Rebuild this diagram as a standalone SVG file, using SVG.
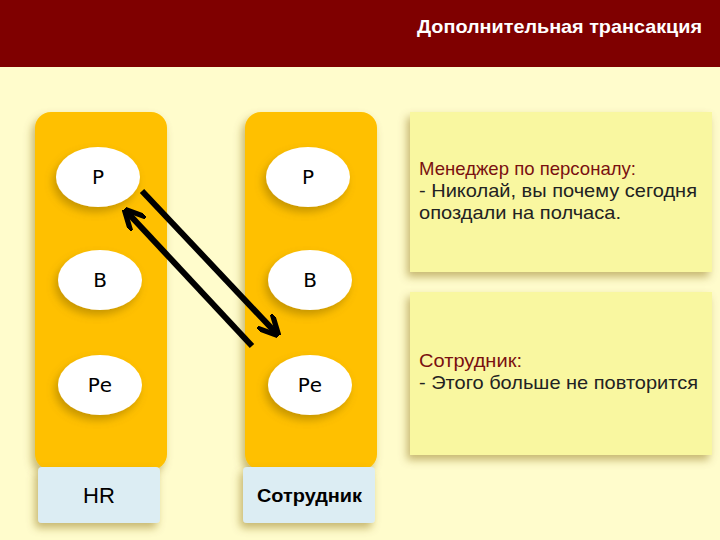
<svg xmlns="http://www.w3.org/2000/svg" width="720" height="540" viewBox="0 0 720 540">
<defs>
<style>
.col{fill:#ffc000}
.ell{fill:#fff}
.lbl{font-family:"Liberation Sans",Arial,sans-serif;font-size:22px;fill:#000;text-anchor:middle}
.nl{font-family:"DejaVu Sans",sans-serif;font-size:20px;fill:#000;text-anchor:middle}
.box{fill:#f9f7a0}
.bt{font-family:"Liberation Sans",Arial,sans-serif;font-size:19px;fill:#222}
.bh{fill:#7a1010}
.foot{fill:#dcedf3}
.arr{stroke:#000;stroke-width:6;fill:none}
</style>
<filter id="sh" x="-20%" y="-20%" width="150%" height="150%"><feDropShadow dx="-3" dy="5" stdDeviation="4" flood-color="#806000" flood-opacity="0.45"/></filter>
<marker id="ah" viewBox="0 0 10 10" refX="8" refY="5" markerWidth="3.5" markerHeight="3.5" orient="auto"><path d="M0,0 L10,5 L0,10" fill="none" stroke="#000" stroke-width="2.5"/></marker>
</defs>
<rect width="720" height="540" fill="#fffccc"/>
<rect width="720" height="67" fill="#7f0000"/>
<text x="417" y="33" textLength="285" lengthAdjust="spacingAndGlyphs" font-family="Liberation Sans,Arial,sans-serif" font-size="19" font-weight="bold" fill="#fff">Дополнительная трансакция</text>
<g id="colHR"><rect class="col" x="35" y="112" width="132" height="358" rx="16" filter="url(#sh)"/></g>
<g id="colEmp"><rect class="col" x="245" y="112" width="132" height="358" rx="16" filter="url(#sh)"/></g>
<g id="hrP"><ellipse class="ell" cx="98" cy="177" rx="42" ry="30" filter="url(#sh)"/><text class="nl" x="98" y="184">Р</text></g>
<g id="hrB"><ellipse class="ell" cx="100" cy="280" rx="42" ry="30" filter="url(#sh)"/><text class="nl" x="100" y="287">В</text></g>
<g id="hrPe"><ellipse class="ell" cx="100" cy="385" rx="42" ry="30" filter="url(#sh)"/><text class="nl" x="100" y="392">Ре</text></g>
<g id="eP"><ellipse class="ell" cx="308" cy="177" rx="42" ry="30" filter="url(#sh)"/><text class="nl" x="308" y="184">Р</text></g>
<g id="eB"><ellipse class="ell" cx="310" cy="280" rx="42" ry="30" filter="url(#sh)"/><text class="nl" x="310" y="287">В</text></g>
<g id="ePe"><ellipse class="ell" cx="310" cy="385" rx="42" ry="30" filter="url(#sh)"/><text class="nl" x="310" y="392">Ре</text></g>
<g id="hr"><rect class="foot" x="38" y="467" width="122" height="56" rx="4" filter="url(#sh)"/><text class="lbl" x="99" y="503">HR</text></g>
<g id="emp"><rect class="foot" x="243" y="467" width="132" height="56" rx="4" filter="url(#sh)"/><text x="257" y="502" textLength="105" lengthAdjust="spacingAndGlyphs" font-family="Liberation Sans,Arial,sans-serif" font-size="19" font-weight="bold">Сотрудник</text></g>
<g id="connectors">
<line class="arr" x1="142" y1="191" x2="276" y2="333" marker-end="url(#ah)"/>
<line class="arr" x1="252" y1="346" x2="127" y2="212" marker-end="url(#ah)"/>
</g>
<g id="msg1"><rect class="box" x="410" y="112" width="302" height="160" filter="url(#sh)"/>
<text class="bt" x="419" y="175"><tspan class="bh" textLength="217" lengthAdjust="spacingAndGlyphs">Менеджер по персоналу:</tspan><tspan x="419" dy="22" textLength="278" lengthAdjust="spacingAndGlyphs">- Николай, вы почему сегодня</tspan><tspan x="419" dy="22" textLength="202" lengthAdjust="spacingAndGlyphs">опоздали на полчаса.</tspan></text></g>
<g id="msg2"><rect class="box" x="410" y="292" width="302" height="163" filter="url(#sh)"/>
<text class="bt" x="419" y="367"><tspan class="bh" textLength="103" lengthAdjust="spacingAndGlyphs">Сотрудник:</tspan><tspan x="419" dy="22" textLength="279" lengthAdjust="spacingAndGlyphs">- Этого больше не повторится</tspan></text></g>
</svg>
